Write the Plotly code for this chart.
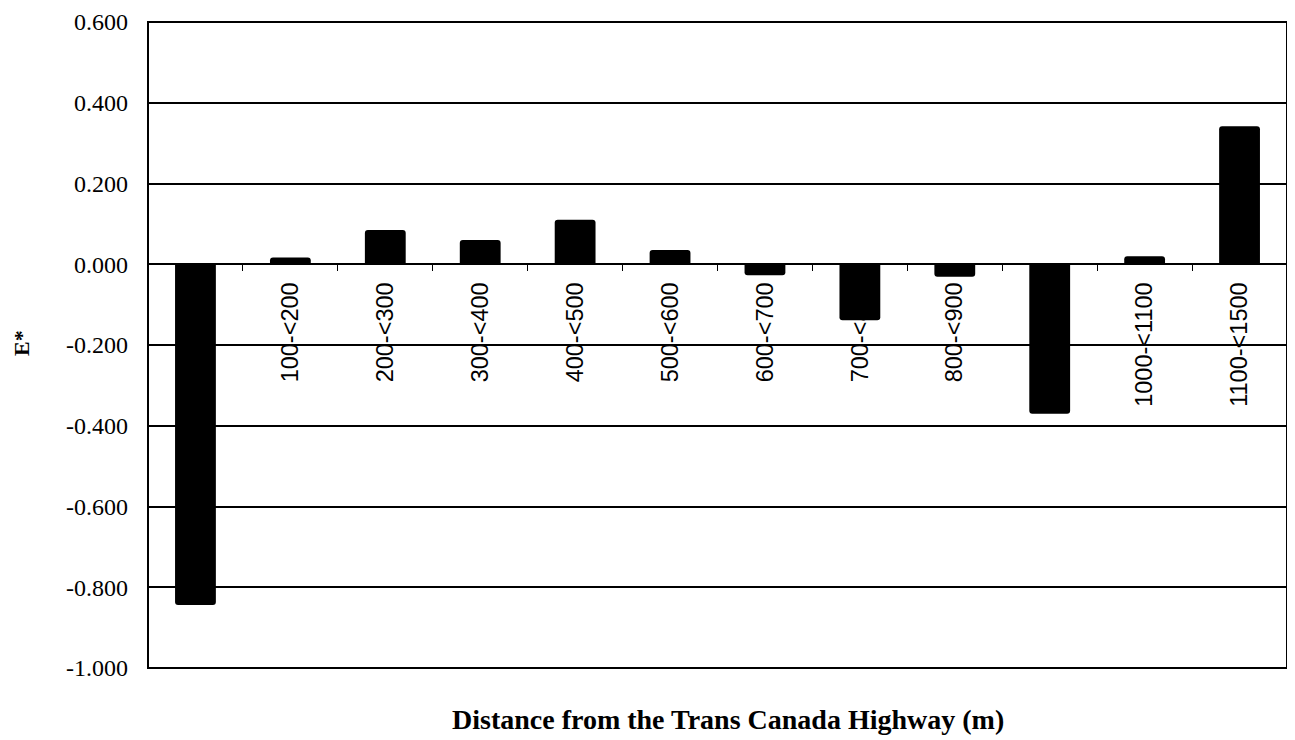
import plotly.graph_objects as go

categories = ["0-<100", "100-<200", "200-<300", "300-<400", "400-<500", "500-<600",
              "600-<700", "700-<800", "800-<900", "900-<1000", "1000-<1100", "1100-<1500"]
values = [-0.844, 0.017, 0.085, 0.060, 0.110, 0.035,
          -0.027, -0.139, -0.031, -0.370, 0.020, 0.342]
y_ticks = [0.6, 0.4, 0.2, 0.0, -0.2, -0.4, -0.6, -0.8, -1.0]
y_ticktext = ["0.600", "0.400", "0.200", "0.000", "-0.200", "-0.400", "-0.600", "-0.800", "-1.000"]

fig = go.Figure()
fig.add_trace(go.Bar(
    x=categories, y=values,
    marker=dict(color="black", line=dict(width=0)),
    width=0.43,
    marker_cornerradius=3,
))

serif = "Liberation Serif, Times New Roman, serif"

# page coords of plot area (figure is offset by the 8px body margin)
PL, PR, PT, PB = 148, 1287, 22, 668
PW, PH = PR - PL, PB - PT

fig.update_layout(
    width=1279, height=732,
    margin=dict(l=140, r=0, t=14, b=72),
    paper_bgcolor="white", plot_bgcolor="white",
    showlegend=False,
    xaxis=dict(
        type="category",
        anchor="free", position=1.0 / 1.6,
        layer="below traces",
        showgrid=False, zeroline=False,
        showline=True, linecolor="black", linewidth=1.5,
        ticks="outside", tickson="boundaries", ticklen=6, tickcolor="black", tickwidth=1,
        tickangle=-90,
        tickfont=dict(family="Liberation Sans, Arial, sans-serif", size=23.5, color="black"),
        ticklabelstandoff=8,
    ),
    yaxis=dict(
        range=[-1.0, 0.6],
        tickvals=y_ticks, ticktext=y_ticktext,
        showgrid=True, gridcolor="black", gridwidth=1.5,
        zeroline=True, zerolinecolor="black", zerolinewidth=1.5,
        showline=False, ticks="",
        tickfont=dict(family=serif, size=24, color="black"),
        ticklabelstandoff=19,
    ),
    shapes=[dict(type="rect", xref="paper", yref="paper", x0=0, x1=1, y0=0, y1=1,
                 line=dict(color="black", width=2), layer="above")],
    annotations=[
        dict(text="<b>Distance from the Trans Canada Highway (m)</b>", xref="paper", yref="paper",
             x=(728 - PL) / PW, y=(PB - 719) / PH, xanchor="center", yanchor="middle",
             showarrow=False, font=dict(family=serif, size=28, color="black")),
        dict(text="<b>E*</b>", xref="paper", yref="paper",
             x=(21 - PL) / PW, y=(PB - 343) / PH, xanchor="center", yanchor="middle",
             textangle=-90, showarrow=False, font=dict(family=serif, size=22, color="black")),
    ],
)

fig.write_html("out.html")
